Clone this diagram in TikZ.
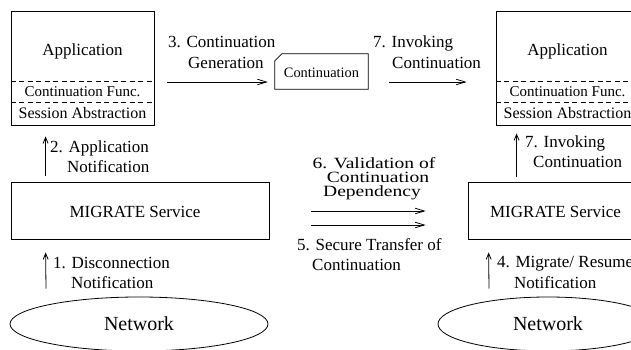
\documentclass[tikz,border=0pt]{standalone}
\usepackage{fontspec}
\setmainfont{Liberation Serif}
\usetikzlibrary{arrows.meta,shapes.geometric,calc}
\tikzset{
  box/.style={draw, line width=0.8pt, inner sep=0pt},
  sep/.style={draw, line width=0.8pt, dash pattern=on 5pt off 3.5pt},
  lbl/.style={font=\fontsize{17}{20}\selectfont, inner sep=0pt, anchor=base west},
  txt/.style={font=\fontsize{17}{20}\selectfont, inner sep=0pt, anchor=base},
  arr/.style={line width=0.8pt, -{Straight Barb[length=9pt,width=5.5pt]}},
  uparr/.style={line width=0.8pt, -{Straight Barb[length=6pt,width=5pt]}},
}
\begin{document}
\begin{tikzpicture}[x=1pt,y=-1pt]
\useasboundingbox (0,0) rectangle (631,350);

% application stacks
\node[box, minimum width=143pt, minimum height=114pt] (appL) at (82.5,68) {};
\node[box, minimum width=143pt, minimum height=114pt] (appR) at (567.5,68) {};
\foreach \a in {appL,appR}{
  \draw[sep] ($(\a.north west)+(0,71)$) -- ($(\a.north east)+(0,71)$);
  \draw[sep] ($(\a.north west)+(0,92)$) -- ($(\a.north east)+(0,92)$);
}
\node[txt] (appLt) at (82.5,56) {Application};
\node[txt, font=\fontsize{15}{18}\selectfont] (appLf) at (82.5,97) {Continuation Func.};
\node[txt, font=\fontsize{16}{19}\selectfont] (appLs) at (82.5,118.5) {Session Abstraction};
\node[txt] (appRt) at (567.5,56) {Application};
\node[txt, font=\fontsize{15}{18}\selectfont] (appRf) at (567.5,97) {Continuation Func.};
\node[txt, font=\fontsize{16}{19}\selectfont] (appRs) at (567.5,118.5) {Session Abstraction};

% continuation object with its clipped corner
\node[inner sep=0pt, minimum width=93pt, minimum height=35pt] (cont) at (321.5,71.5) {};
\draw[line width=0.8pt] (cont.south west) -- ($(cont.north west)+(0,7)$)
  -- ($(cont.north west)+(7,0)$) -- (cont.north east) -- (cont.south east) -- cycle;
\node[inner sep=0pt, font=\fontsize{14.4}{17}\selectfont] (contt) at (321.5,73) {Continuation};

% migrate services
\node[box, minimum width=258pt, minimum height=57pt] (migL) at (140,210.5) {};
\node[box, minimum width=174pt, minimum height=57pt] (migR) at (555,210.5) {};
\node[txt] (migLt) at (135,217.6) {MIGRATE Service};
\node[txt] (migRt) at (555.5,217.6) {MIGRATE Service};

% networks
\node[draw, line width=0.8pt, ellipse, inner sep=0pt, minimum width=258pt, minimum height=54pt,
      font=\fontsize{20}{24}\selectfont] (netL) at (139,324) {Network};
\node[draw, line width=0.8pt, ellipse, inner sep=0pt, minimum width=220pt, minimum height=54pt,
      font=\fontsize{20}{24}\selectfont] (netR) at (548,324) {Network};

% connectors
\draw[arr] ($(appL.east)+(13,14)$) -- ($(cont.west)+(-7,10.5)$);
\draw[arr] ($(cont.east)+(21,10.5)$) -- ($(appR.west)+(-29,14)$);
\draw[arr] ($(migL.east)+(42,0.5)$) -- ($(migR.west)+(-42,0.5)$);
\draw[arr] ($(migL.east)+(42,14.5)$) -- ($(migR.west)+(-42,14.5)$);
\draw[uparr] ($(migL.north west)+(35,-6)$) -- ($(appL.south west)+(35,11)$);
\draw[uparr] ($(netL.north)+(-93,-8)$) -- ($(migL.south west)+(35,13)$);
\draw[uparr] ($(netR.north)+(-59,-8)$) -- ($(migR.south west)+(21,13)$);
\draw[uparr] ($(migR.north west)+(49,-5)$) -- ($(appR.south west)+(21,8)$);

% step labels
\node[lbl] (l3a) at (168,47.6) {3. Continuation};
\node[lbl] (l3b) at (188,68.6) {Generation};
\node[lbl] (l7a) at (373,47.6) {7. Invoking};
\node[lbl] (l7b) at (392,68.6) {Continuation};
\node[lbl] (l2a) at (50,152.6) {2. Application};
\node[lbl] (l2b) at (67,172.6) {Notification};
\node[lbl] (l7c) at (525,147.6) {7. Invoking};
\node[lbl] (l7d) at (533,167.6) {Continuation};
\node[txt] (l6a) at (374,168) {\scalebox{1.15}[0.92]{6. Validation of}};
\node[txt] (l6b) at (378,182.3) {\scalebox{1.15}[0.92]{Continuation}};
\node[txt] (l6c) at (372,196.6) {\scalebox{1.15}[0.92]{Dependency}};
\node[lbl] (l5a) at (297,250.6) {5. Secure Transfer of};
\node[lbl] (l5b) at (312,270.6) {Continuation};
\node[lbl] (l1a) at (53,268.6) {1. Disconnection};
\node[lbl] (l1b) at (71,288.6) {Notification};
\node[lbl] (l4a) at (497,267.6) {4. Migrate/ Resume};
\node[lbl] (l4b) at (514,288.6) {Notification};
\end{tikzpicture}
\end{document}
